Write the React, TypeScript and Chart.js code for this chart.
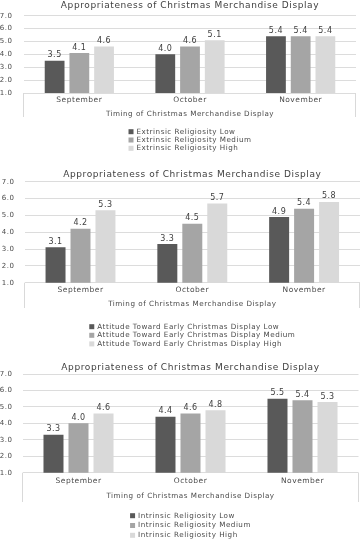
import React, { useEffect, useRef } from "react";
import { Chart, registerables } from "chart.js";

Chart.register(...registerables);

const categories = ["September", "October", "November"];
const chartTitle = "Appropriateness of Christmas Merchandise Display";
const xAxisTitle = "Timing of Christmas Merchandise Display";
const yMin = 1;
const yMax = 7;
const yStep = 1;
const barColors = ["#595959", "#a5a5a5", "#d9d9d9"];

const extrinsicLabels = [
  "Extrinsic Religiosity Low",
  "Extrinsic Religiosity Medium",
  "Extrinsic Religiosity High",
];
const extrinsicLow = [3.5, 4.0, 5.4];
const extrinsicMedium = [4.1, 4.6, 5.4];
const extrinsicHigh = [4.6, 5.1, 5.4];

const attitudeLabels = [
  "Attitude Toward Early Christmas Display Low",
  "Attitude Toward Early Christmas Display Medium",
  "Attitude Toward Early Christmas Display High",
];
const attitudeLow = [3.1, 3.3, 4.9];
const attitudeMedium = [4.2, 4.5, 5.4];
const attitudeHigh = [5.3, 5.7, 5.8];

const intrinsicLabels = [
  "Intrinsic Religiosity Low",
  "Intrinsic Religiosity Medium",
  "Intrinsic Religiosity High",
];
const intrinsicLow = [3.3, 4.4, 5.5];
const intrinsicMedium = [4.0, 4.6, 5.4];
const intrinsicHigh = [4.6, 4.8, 5.3];

const FONT = "'DejaVu Sans', sans-serif";
const TEXT = "#4a4a4a";

type Layout = {
  top: number;
  height: number;
  padTop: number;
  padRight: number;
  padBottom: number;
  yWidth: number;
  yLabelRight: number;
  xHeight: number;
  tickPad: number;
  titleY: number;
  legendY: number;
  legendStep: number;
  lineBottom: number;
};

const layouts: Layout[] = [
  { top: 0, height: 156, padTop: 9, padRight: 5, padBottom: 37.7, yWidth: 24, yLabelRight: 12.5, xHeight: 25.3, tickPad: 3, titleY: 5.5, legendY: 131.7, legendStep: 8.3, lineBottom: 117 },
  { top: 166, height: 186, padTop: 15.7, padRight: 1, padBottom: 43.7, yWidth: 24.6, yLabelRight: 14.5, xHeight: 25.6, tickPad: 2.8, titleY: 9, legendY: 160.7, legendStep: 8.6, lineBottom: 142 },
  { top: 356, height: 184, padTop: 18, padRight: 2.5, padBottom: 39.7, yWidth: 22.5, yLabelRight: 12.5, xHeight: 27.6, tickPad: 3.8, titleY: 12, legendY: 159.7, legendStep: 9.8, lineBottom: 146 },
];

const decorPlugin = {
  id: "decor",
  beforeDraw(chart: any) {
    chart.ctx.letterSpacing = "0.5px";
  },
  afterDraw(chart: any, _args: any, opts: any) {
    const L: Layout = opts.layout;
    const { ctx, chartArea } = chart;
    ctx.save();
    // category box lines below axis
    ctx.strokeStyle = "#d9d9d9";
    ctx.lineWidth = 1;
    [chartArea.left, chartArea.right].forEach((x: number) => {
      const px = Math.round(x) - 0.5;
      ctx.beginPath();
      ctx.moveTo(px, chartArea.bottom);
      ctx.lineTo(px, L.lineBottom);
      ctx.stroke();
    });
    // data labels
    ctx.letterSpacing = "0.5px";
    ctx.font = `8px ${FONT}`;
    ctx.fillStyle = "#404040";
    ctx.textAlign = "center";
    ctx.textBaseline = "middle";
    chart.data.datasets.forEach((ds: any, i: number) => {
      const meta = chart.getDatasetMeta(i);
      meta.data.forEach((el: any, j: number) => {
        ctx.fillText(Number(ds.data[j]).toFixed(1), el.x, el.y - 5.5);
      });
    });
    // title
    const cx = (chartArea.left + chartArea.right) / 2;
    ctx.letterSpacing = "0.6px";
    ctx.font = `9px ${FONT}`;
    ctx.fillStyle = "#404040";
    ctx.fillText(chartTitle, cx, L.titleY);
    // legend
    ctx.letterSpacing = "0.5px";
    ctx.font = `7.2px ${FONT}`;
    const labels: string[] = chart.data.datasets.map((d: any) => d.label);
    const maxW = Math.max(...labels.map((t) => ctx.measureText(t).width));
    const box = 5;
    const gap = 3;
    const x0 = cx - (box + gap + maxW) / 2;
    ctx.textAlign = "left";
    chart.data.datasets.forEach((ds: any, i: number) => {
      const y = L.legendY + i * L.legendStep;
      ctx.fillStyle = ds.backgroundColor;
      ctx.fillRect(x0, y - box / 2, box, box);
      ctx.fillStyle = TEXT;
      ctx.fillText(ds.label, x0 + box + gap, y);
    });
    ctx.restore();
  },
};

function BarChart({ labels, values, layout }: { labels: string[]; values: number[][]; layout: Layout }) {
  const ref = useRef<HTMLCanvasElement | null>(null);
  useEffect(() => {
    if (!ref.current) return;
    const chart = new Chart(ref.current, {
      type: "bar",
      data: {
        labels: categories,
        datasets: values.map((v, i) => ({
          label: labels[i],
          data: v,
          backgroundColor: barColors[i],
          borderWidth: 0,
          categoryPercentage: 0.67,
          barPercentage: 0.8,
        })),
      },
      options: {
        animation: false,
        responsive: false,
        devicePixelRatio: 1,
        layout: { padding: { left: 0, right: layout.padRight, top: layout.padTop, bottom: layout.padBottom } },
        plugins: {
          legend: { display: false },
          title: { display: false },
          tooltip: { enabled: false },
          decor: { layout },
        } as any,
        scales: {
          x: {
            type: "category",
            grid: { display: false, drawTicks: false },
            border: { display: false },
            ticks: { color: TEXT, font: { family: FONT, size: 7.5 }, padding: layout.tickPad, maxRotation: 0, autoSkip: false },
            title: { display: true, text: xAxisTitle, color: TEXT, font: { family: FONT, size: 7.2 }, padding: 0 },
            afterFit: (s: any) => {
              s.height = layout.xHeight;
            },
          },
          y: {
            min: yMin,
            max: yMax,
            ticks: {
              stepSize: yStep,
              color: TEXT,
              font: { family: FONT, size: 7 },
              padding: layout.yWidth - layout.yLabelRight,
              callback: (v: any) => Number(v).toFixed(1),
            },
            grid: { color: "#dcdcdc", drawTicks: false },
            border: { display: false },
            afterFit: (s: any) => {
              s.width = layout.yWidth;
            },
          },
        } as any,
      },
      plugins: [decorPlugin as any],
    });
    return () => chart.destroy();
  }, []);
  return (
    <canvas
      ref={ref}
      width={361}
      height={layout.height}
      style={{ position: "absolute", left: 0, top: layout.top, width: 361, height: layout.height }}
    />
  );
}

export default function App() {
  return (
    <div style={{ position: "absolute", left: 0, top: 0, width: 361, height: 540, background: "#ffffff", overflow: "hidden" }}>
      <BarChart labels={extrinsicLabels} values={[extrinsicLow, extrinsicMedium, extrinsicHigh]} layout={layouts[0]} />
      <BarChart labels={attitudeLabels} values={[attitudeLow, attitudeMedium, attitudeHigh]} layout={layouts[1]} />
      <BarChart labels={intrinsicLabels} values={[intrinsicLow, intrinsicMedium, intrinsicHigh]} layout={layouts[2]} />
    </div>
  );
}
